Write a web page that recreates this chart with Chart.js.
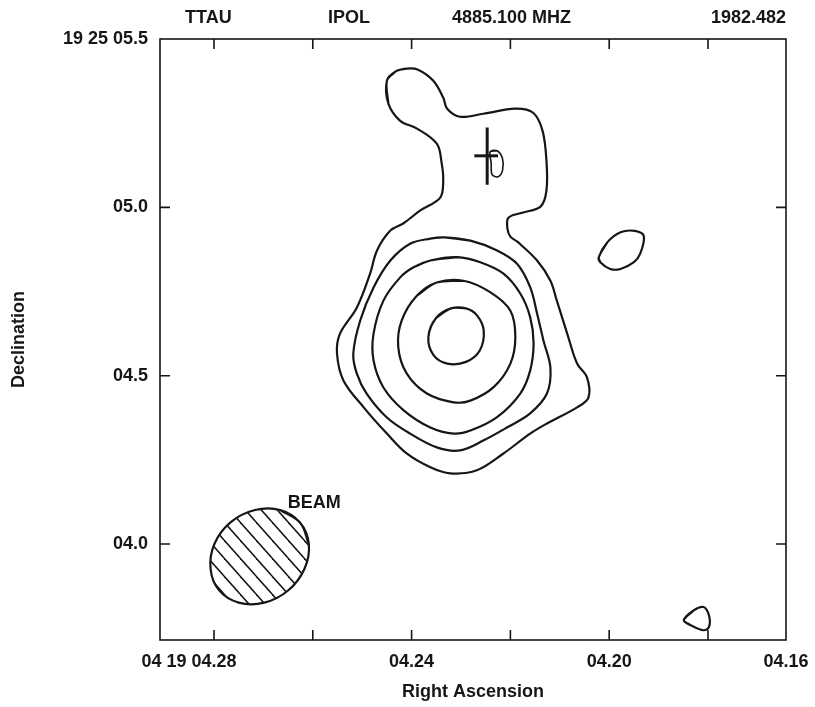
<!DOCTYPE html>
<html>
<head>
<meta charset="utf-8">
<script src="https://cdn.jsdelivr.net/npm/chart.js@4.4.1/dist/chart.umd.min.js"></script>
<style>
  html, body { margin: 0; padding: 0; background: #fff; }
  #wrap { width: 815px; height: 707px; }
</style>
</head>
<body>
<div id="wrap"><canvas id="map" width="815" height="707"></canvas></div>
<script>
// T Tau, IPOL 4885.100 MHz map (epoch 1982.482)
// x = RA seconds after 04h19m, y = Dec arcsec after 19d25m

const raMin = 4.16421, raMax = 4.29093;
const decMin = 3.715, decMax = 5.5;

const raTickMarks = [4.28, 4.26, 4.24, 4.22, 4.20, 4.18];
const raLabelValues = [4.28, 4.24, 4.20, raMin];
const raLabelText = ['04.28', '04.24', '04.20', '04.16'];
const raLabelPrefix = '04 19 ';

const decTickMarks = [5.0, 4.5, 4.0];
const decLabelValues = [5.5, 5.0, 4.5, 4.0];
const decLabelText = ['19 25 05.5', '05.0', '04.5', '04.0'];

const headerText = ['TTAU', 'IPOL', '4885.100 MHZ', '1982.482'];

// contour levels, outermost first: [RA, Dec], closed loops
const contour1 = [
    [4.2450, 5.376], [4.2433, 5.403], [4.2410, 5.412], [4.2387, 5.409], [4.2356, 5.376],
    [4.2336, 5.326], [4.2328, 5.293], [4.2302, 5.269], [4.2255, 5.278], [4.2190, 5.293],
    [4.2154, 5.281], [4.2135, 5.228], [4.2127, 5.139], [4.2127, 5.050], [4.2139, 5.002],
    [4.2176, 4.984], [4.2204, 4.969], [4.2206, 4.937], [4.2200, 4.913], [4.2186, 4.898],
    [4.2146, 4.842], [4.2119, 4.782], [4.2106, 4.723], [4.2085, 4.625], [4.2065, 4.536],
    [4.2045, 4.495], [4.2042, 4.435], [4.2065, 4.406], [4.2126, 4.358], [4.2160, 4.328],
    [4.2214, 4.269], [4.2268, 4.219], [4.2322, 4.210], [4.2362, 4.228], [4.2410, 4.269],
    [4.2450, 4.328], [4.2497, 4.406], [4.2538, 4.486], [4.2551, 4.566], [4.2545, 4.625],
    [4.2511, 4.702], [4.2484, 4.803], [4.2470, 4.872], [4.2443, 4.931], [4.2417, 4.952],
    [4.2383, 4.990], [4.2342, 5.029], [4.2336, 5.079], [4.2339, 5.130], [4.2349, 5.189],
    [4.2389, 5.234], [4.2423, 5.257], [4.2447, 5.308]
];
const contour2 = [
    [4.2335, 4.911], [4.2281, 4.901], [4.2227, 4.872], [4.2187, 4.833], [4.2160, 4.763],
    [4.2146, 4.685], [4.2133, 4.604], [4.2119, 4.524], [4.2126, 4.447], [4.2160, 4.388],
    [4.2207, 4.346], [4.2254, 4.308], [4.2302, 4.278], [4.2349, 4.287], [4.2403, 4.328],
    [4.2450, 4.376], [4.2491, 4.447], [4.2511, 4.507], [4.2518, 4.566], [4.2504, 4.664],
    [4.2477, 4.762], [4.2443, 4.842], [4.2403, 4.892], [4.2362, 4.907]
];
const contour3 = [
    [4.2362, 4.842], [4.2308, 4.852], [4.2261, 4.837], [4.2214, 4.803], [4.2180, 4.744],
    [4.2160, 4.674], [4.2153, 4.596], [4.2160, 4.515], [4.2180, 4.447], [4.2227, 4.377],
    [4.2281, 4.337], [4.2315, 4.328], [4.2362, 4.346], [4.2416, 4.397], [4.2457, 4.465],
    [4.2477, 4.545], [4.2477, 4.625], [4.2457, 4.723], [4.2423, 4.792], [4.2396, 4.822]
];
const contour4 = [
    [4.2349, 4.777], [4.2295, 4.782], [4.2241, 4.748], [4.2200, 4.693], [4.2190, 4.614],
    [4.2200, 4.536], [4.2234, 4.466], [4.2281, 4.426], [4.2315, 4.421], [4.2369, 4.447],
    [4.2410, 4.507], [4.2427, 4.585], [4.2420, 4.664], [4.2389, 4.738]
];
const contour5 = [
    [4.2320, 4.700], [4.2290, 4.700], [4.2268, 4.680], [4.2254, 4.634], [4.2262, 4.575],
    [4.2290, 4.541], [4.2328, 4.536], [4.2356, 4.562], [4.2366, 4.615], [4.2350, 4.672]
];
const knotNearStar = [
    [4.2241, 5.165], [4.2227, 5.168], [4.2216, 5.145], [4.2216, 5.109], [4.2225, 5.091],
    [4.2237, 5.097], [4.2239, 5.133]
];
const eastBlob = [
    [4.2021, 4.852], [4.2004, 4.896], [4.1977, 4.926], [4.1948, 4.930], [4.1930, 4.915],
    [4.1937, 4.863], [4.1950, 4.837], [4.1977, 4.817], [4.1998, 4.817], [4.2018, 4.837]
];
const southBlob = [
    [4.1849, 3.774], [4.1829, 3.803], [4.1809, 3.813], [4.1798, 3.788], [4.1798, 3.754],
    [4.1809, 3.744], [4.1835, 3.759]
];

// optical position cross
const crossH = [[4.2273, 5.153], [4.2225, 5.153]];
const crossV = [[4.2247, 5.237], [4.2247, 5.067]];

// beam outline
const beamOutline = [
    [4.2626, 4.064], [4.2608, 4.000], [4.2617, 3.926], [4.2650, 3.862], [4.2698, 3.826],
    [4.2750, 3.826], [4.2790, 3.863], [4.2807, 3.927], [4.2799, 4.001], [4.2766, 4.065],
    [4.2717, 4.101], [4.2666, 4.101]
];
const beamLabel = { ra: 4.2597, dec: 4.121, text: 'BEAM' };

const INK = '#161616';
const FONT = '"Liberation Sans", Arial, Helvetica, sans-serif';
const FONT_SIZE = 18;
const TICK_LEN = 10;

// wrap a closed outline so the spline stays smooth where it closes
function closedPoints(list) {
    const n = list.length;
    const ring = [list[n - 1], ...list, list[0], list[1]];
    return ring.map(p => ({ x: p[0], y: p[1] }));
}

function contourSet(list, width) {
    return {
        data: closedPoints(list),
        showLine: true,
        borderColor: INK,
        borderWidth: width || 2.2,
        pointRadius: 0,
        tension: 0.35,
        fill: false
    };
}

function segmentSet(list, width) {
    return {
        data: list.map(p => ({ x: p[0], y: p[1] })),
        showLine: true,
        borderColor: INK,
        borderWidth: width,
        pointRadius: 0,
        tension: 0,
        fill: false
    };
}

function hatchPattern() {
    const w = 16, h = 18;
    const c = document.createElement('canvas');
    c.width = w; c.height = h;
    const g = c.getContext('2d');
    g.strokeStyle = INK;
    g.lineWidth = 1.5;
    for (const [dx, dy] of [[0, 0], [-w, 0], [w, 0], [0, -h], [0, h]]) {
        g.beginPath();
        g.moveTo(dx, dy);
        g.lineTo(dx + w, dy + h);
        g.stroke();
    }
    return g.createPattern(c, 'repeat');
}

// frame, inward ticks, header and notes
const framePlugin = {
    id: 'frame',
    afterDraw(chart) {
        const { ctx, chartArea: a, scales: { x, y } } = chart;
        ctx.save();
        ctx.strokeStyle = INK;
        ctx.lineWidth = 1.6;
        ctx.strokeRect(a.left, a.top, a.right - a.left, a.bottom - a.top);

        ctx.beginPath();
        raTickMarks.forEach(v => {
            const px = x.getPixelForValue(v);
            ctx.moveTo(px, a.top); ctx.lineTo(px, a.top + TICK_LEN);
            ctx.moveTo(px, a.bottom); ctx.lineTo(px, a.bottom - TICK_LEN);
        });
        decTickMarks.forEach(v => {
            const py = y.getPixelForValue(v);
            ctx.moveTo(a.left, py); ctx.lineTo(a.left + TICK_LEN, py);
            ctx.moveTo(a.right, py); ctx.lineTo(a.right - TICK_LEN, py);
        });
        ctx.stroke();

        ctx.fillStyle = INK;
        ctx.font = `bold ${FONT_SIZE}px ${FONT}`;
        ctx.textBaseline = 'middle';

        // header row
        ctx.textAlign = 'left';
        ctx.fillText(headerText[0], a.left + 25, 18);
        ctx.fillText(headerText[1], a.left + 168, 18);
        ctx.fillText(headerText[2], a.left + 292, 18);
        ctx.textAlign = 'right';
        ctx.fillText(headerText[3], a.right, 18);

        // hours/minutes in front of the first RA label
        const firstX = x.getPixelForValue(raLabelValues[0]);
        const half = ctx.measureText(raLabelText[0]).width / 2;
        const labelY = x.top + x.options.ticks.padding + FONT_SIZE * 1.2 / 2;
        ctx.fillText(raLabelPrefix, firstX - half, labelY);

        // beam note
        ctx.textAlign = 'center';
        ctx.fillText(beamLabel.text, x.getPixelForValue(beamLabel.ra), y.getPixelForValue(beamLabel.dec));
        ctx.restore();
    }
};

const datasets = [
    contourSet(contour1),
    contourSet(contour2),
    contourSet(contour3),
    contourSet(contour4),
    contourSet(contour5),
    contourSet(knotNearStar, 1.6),
    contourSet(eastBlob),
    contourSet(southBlob),
    segmentSet(crossH, 3),
    segmentSet(crossV, 3),
    {
        ...contourSet(beamOutline, 2.2),
        tension: 0.4,
        fill: 'shape',
        backgroundColor: hatchPattern()
    }
];

new Chart(document.getElementById('map'), {
    type: 'scatter',
    data: { datasets: datasets },
    options: {
        responsive: false,
        animation: false,
        layout: { padding: { left: 0, right: 29, top: 39, bottom: 0 } },
        plugins: { legend: { display: false }, tooltip: { enabled: false } },
        scales: {
            x: {
                type: 'linear',
                reverse: true,
                min: raMin,
                max: raMax,
                grid: { display: false, drawTicks: false },
                border: { display: false },
                afterBuildTicks: s => { s.ticks = raLabelValues.map(v => ({ value: v })); },
                afterFit: s => { s.height = 67; s.paddingLeft = 0; s.paddingRight = 0; },
                ticks: {
                    padding: 11,
                    maxRotation: 0,
                    autoSkip: false,
                    color: INK,
                    font: { family: FONT, size: FONT_SIZE, weight: 'bold' },
                    callback: (v, i) => raLabelText[i]
                },
                title: {
                    display: true,
                    text: 'Right Ascension',
                    color: INK,
                    padding: { top: 0, bottom: 4 },
                    font: { family: FONT, size: FONT_SIZE, weight: 'bold' }
                }
            },
            y: {
                type: 'linear',
                min: decMin,
                max: decMax,
                grid: { display: false, drawTicks: false },
                border: { display: false },
                afterBuildTicks: s => { s.ticks = decLabelValues.map(v => ({ value: v })); },
                afterFit: s => { s.width = 160; s.paddingTop = 0; s.paddingBottom = 0; },
                ticks: {
                    padding: 12,
                    autoSkip: false,
                    color: INK,
                    font: { family: FONT, size: FONT_SIZE, weight: 'bold' },
                    callback: (v, i) => decLabelText[i]
                },
                title: {
                    display: true,
                    text: 'Declination',
                    color: INK,
                    padding: { top: 8, bottom: 0 },
                    font: { family: FONT, size: FONT_SIZE, weight: 'bold' }
                }
            }
        }
    },
    plugins: [framePlugin]
});
</script>
</body>
</html>
